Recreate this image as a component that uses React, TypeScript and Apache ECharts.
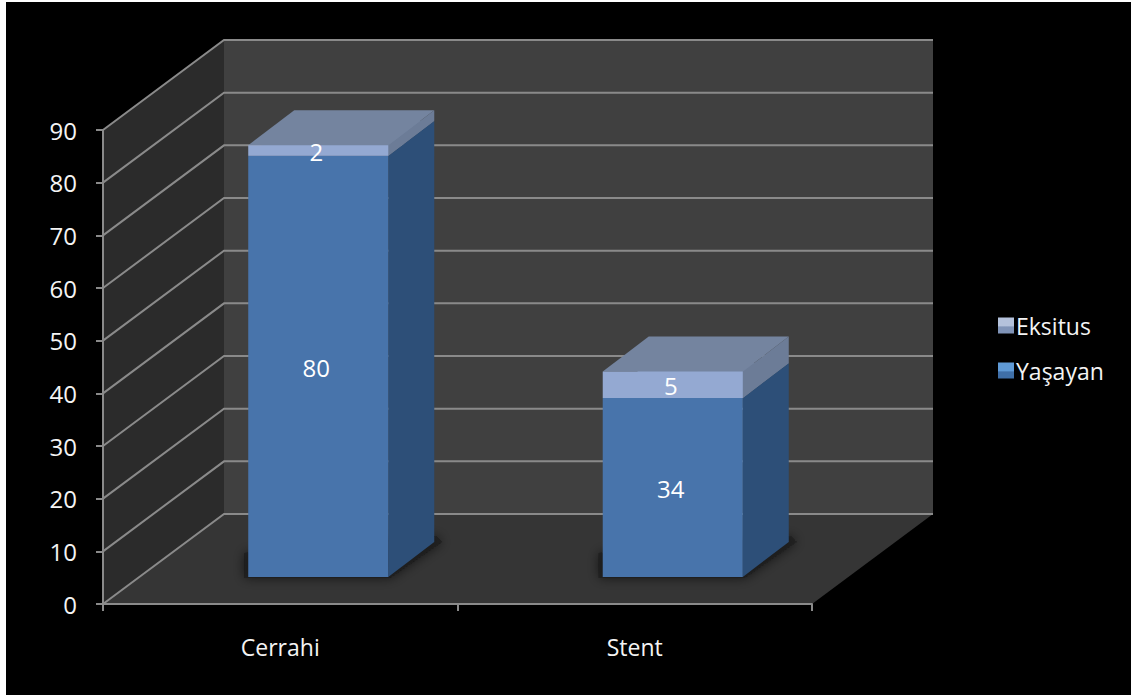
import React, { useEffect, useRef } from "react";
import * as echarts from "echarts";

const categories = ["Cerrahi", "Stent"];
const survivors = [80, 34];
const deaths = [2, 5];
const axisMax = 90;
const axisStep = 10;
const yTicks = [0, 10, 20, 30, 40, 50, 60, 70, 80, 90];

// Oblique projection of the chart box and of each bar.
const BOX_DX = 121;
const BOX_DY = -90;
const BAR_SHIFT_X = 38;
const BAR_SHIFT_Y = -27;
const BAR_DX = 46;
const BAR_DY = -35;
const BAR_RATIO = 0.395;

const FONT = "Open Sans";
const TEXT = "#f4f4f4";
const LINE = "#8a8a8a";

const wallsItem = (_params: any, api: any) => {
  const w = api.size([1, 0])[0];
  const left = api.coord([0, 0])[0] - w / 2;
  const right = left + w * 2;
  const y0 = api.coord([0, 0])[1];
  const yT = api.coord([0, axisMax])[1];
  const poly = (points: number[][], fill: string) => ({
    type: "polygon",
    shape: { points },
    style: { fill },
    silent: true,
  });
  return {
    type: "group",
    children: [
      poly(
        [[left, y0], [left + BOX_DX, y0 + BOX_DY], [left + BOX_DX, yT + BOX_DY], [left, yT]],
        "#2b2b2b",
      ),
      poly(
        [[left + BOX_DX, y0 + BOX_DY], [right + BOX_DX, y0 + BOX_DY], [right + BOX_DX, yT + BOX_DY], [left + BOX_DX, yT + BOX_DY]],
        "#404040",
      ),
      poly(
        [[left, y0], [right, y0], [right + BOX_DX, y0 + BOX_DY], [left + BOX_DX, y0 + BOX_DY]],
        "#353535",
      ),
    ],
  };
};

const gridLineItem = (params: any, api: any) => {
  const w = api.size([1, 0])[0];
  const left = api.coord([0, 0])[0] - w / 2;
  const right = left + w * 2;
  const y = api.coord([0, yTicks[params.dataIndex]])[1];
  return {
    type: "polyline",
    shape: { points: [[left, y], [left + BOX_DX, y + BOX_DY], [right + BOX_DX, y + BOX_DY]] },
    style: { stroke: LINE, lineWidth: 2, fill: "none" },
    silent: true,
  };
};

type Palette = { front: string; side: string; top: string };

const barItem = (palette: Palette, castShadow: boolean) => (_params: any, api: any) => {
  const band = api.size([1, 0])[0];
  const width = band * BAR_RATIO;
  const cx = api.coord([api.value(0), 0])[0] + BAR_SHIFT_X;
  const base = api.value(1);
  const value = api.value(2);
  const yA = api.coord([0, base])[1] + BAR_SHIFT_Y;
  const yB = api.coord([0, base + value])[1] + BAR_SHIFT_Y;
  const x0 = cx - width / 2;
  const x1 = cx + width / 2;
  const children: any[] = [];
  if (castShadow) {
    children.push({
      type: "polygon",
      shape: {
        points: [
          [x0 - 4, yA - 24],
          [x0 - 4, yA + 1],
          [x1 + 2, yA + 1],
          [x1 + BAR_DX + 8, yA + BAR_DY],
          [x1 + BAR_DX + 2, yA + BAR_DY - 6],
        ],
      },
      style: { fill: "rgba(25,25,25,0.7)", shadowBlur: 12, shadowColor: "rgba(10,10,10,0.85)" },
      silent: true,
    });
  }
  children.push(
    {
      type: "polygon",
      shape: { points: [[x1, yA], [x1 + BAR_DX, yA + BAR_DY], [x1 + BAR_DX, yB + BAR_DY], [x1, yB]] },
      style: { fill: palette.side },
      silent: true,
    },
    {
      type: "polygon",
      shape: { points: [[x0, yB], [x1, yB], [x1 + BAR_DX, yB + BAR_DY], [x0 + BAR_DX, yB + BAR_DY]] },
      style: { fill: palette.top },
      silent: true,
    },
    {
      type: "rect",
      shape: { x: x0, y: yB, width, height: yA - yB },
      style: { fill: palette.front },
      silent: true,
    },
    {
      type: "text",
      x: cx - 2,
      y: (yA + yB) / 2 + 1,
      style: {
        text: String(value),
        fill: "#ffffff",
        font: `24px "${FONT}"`,
        align: "center",
        verticalAlign: "middle",
      },
      silent: true,
    },
  );
  return { type: "group", children };
};

const legendSwatch = (light: string, dark: string) =>
  new echarts.graphic.LinearGradient(0, 0, 0, 1, [
    { offset: 0, color: light },
    { offset: 0.5, color: light },
    { offset: 0.6, color: dark },
    { offset: 1, color: dark },
  ]);

export default function App() {
  const host = useRef<HTMLDivElement>(null);

  useEffect(() => {
    const chart = echarts.init(host.current!, undefined, { renderer: "svg" });
    chart.setOption({
      animation: false,
      backgroundColor: "#ffffff",
      graphic: [
        {
          type: "rect",
          z: -1,
          silent: true,
          shape: { x: 6, y: 2, width: 1125, height: 693 },
          style: { fill: "#000000" },
        },
      ],
      grid: { left: 103, top: 130, width: 709, height: 474 },
      legend: {
        data: ["Eksitus", "Yaşayan"],
        orient: "vertical",
        left: 993,
        top: 309,
        itemWidth: 16,
        itemHeight: 16,
        itemGap: 22,
        itemStyle: { borderWidth: 0 },
        icon: "rect",
        textStyle: { color: TEXT, fontFamily: FONT, fontSize: 23, padding: [0, 0, 0, -3] },
      },
      xAxis: {
        type: "category",
        data: categories,
        z: 5,
        axisLine: { lineStyle: { color: LINE, width: 2 } },
        axisTick: { show: true, length: 7, lineStyle: { color: LINE, width: 2 } },
        axisLabel: { color: TEXT, fontFamily: FONT, fontSize: 23, margin: 31 },
      },
      yAxis: {
        type: "value",
        min: 0,
        max: axisMax,
        interval: axisStep,
        z: 5,
        splitLine: { show: false },
        axisLine: { show: true, lineStyle: { color: LINE, width: 2 } },
        axisTick: { show: true, length: 7, lineStyle: { color: LINE, width: 2 } },
        axisLabel: { color: TEXT, fontFamily: FONT, fontSize: 24, margin: 26 },
      },
      series: [
        { type: "custom", name: "walls", z: 1, data: [[0, 0]], renderItem: wallsItem, tooltip: { show: false } },
        { type: "custom", name: "lines", z: 1, data: yTicks.map((t) => [0, t]), renderItem: gridLineItem },
        {
          type: "custom",
          name: "Yaşayan",
          z: 2,
          itemStyle: { color: legendSwatch("#5f9ad6", "#3f6fa8") },
          data: survivors.map((v, i) => [i, 0, v]),
          renderItem: barItem({ front: "#4874ab", side: "#2d4f78", top: "#72839f" }, true),
        },
        {
          type: "custom",
          name: "Eksitus",
          z: 3,
          itemStyle: { color: legendSwatch("#b4c2dc", "#8094b8") },
          data: deaths.map((v, i) => [i, survivors[i], v]),
          renderItem: barItem({ front: "#94a9d2", side: "#6c7c97", top: "#74849f" }, false),
        },
      ],
    });
    return () => chart.dispose();
  }, []);

  return (
    <div
      ref={host}
      style={{ position: "fixed", left: 0, top: 0, width: 1131, height: 695 }}
    />
  );
}
